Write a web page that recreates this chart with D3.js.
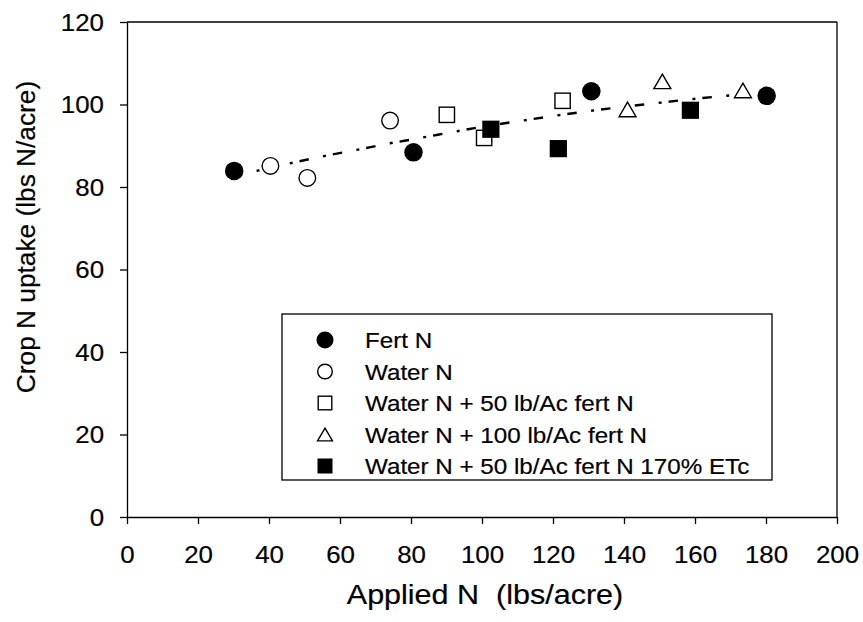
<!DOCTYPE html>
<html><head><meta charset="utf-8">
<script src="https://cdn.jsdelivr.net/npm/d3@7/dist/d3.min.js"></script>
<style>
body{margin:0;background:#fff;}
svg text{font-family:"Liberation Sans",Arial,sans-serif;fill:#000;white-space:pre;stroke:#000;stroke-width:0.2px;}
</style></head>
<body><svg id="c" width="863" height="622"></svg>
<script>
// ---- data ----
const fertX = [30.2, 80.7, 130.8, 180.2];
const fertY = [83.9, 88.4, 103.2, 102.1];
const waterX = [40.4, 50.8, 74.1];
const waterY = [85.1, 82.2, 96.1];
const w50X = [90.1, 100.6, 122.7];
const w50Y = [97.5, 91.9, 100.9];
const w100X = [141.0, 150.8, 173.5];
const w100Y = [98.8, 105.6, 103.4];
const w50etX = [102.5, 121.5, 158.7];
const w50etY = [94.0, 89.3, 98.6];
// fitted curve, points
const fitX = [36.5, 47.3, 55.5, 64.7, 74.1, 80.7, 92.9, 99.4, 111.4, 120.8, 130.1, 139.3, 148.7, 158.0, 167.3, 176.4];
const fitY = [83.9, 86.0, 87.5, 89.0, 90.6, 91.6, 93.5, 94.5, 96.1, 97.3, 98.4, 99.4, 100.3, 101.2, 102.0, 102.7];
const xTicks = [0, 20, 40, 60, 80, 100, 120, 140, 160, 180, 200];
const yTicks = [0, 20, 40, 60, 80, 100, 120];
const legendLabels = ["Fert N", "Water N", "Water N + 50 lb/Ac fert N", "Water N + 100 lb/Ac fert N", "Water N + 50 lb/Ac fert N 170% ETc"];
const xTitle = "Applied N  (lbs/acre)";
const yTitle = "Crop N uptake (lbs N/acre)";

const svg = d3.select("#c");
const x = d3.scaleLinear().domain([0, 200]).range([127, 837]);
const y = d3.scaleLinear().domain([0, 120]).range([517, 22]);

function stretch(sel, k){
  sel.each(function(){
    const w = this.getComputedTextLength();
    d3.select(this).attr("textLength", w * k).attr("lengthAdjust", "spacingAndGlyphs");
  });
}

// frame top and right
svg.append("line").attr("x1", x(0)).attr("x2", x(200)).attr("y1", y(120)).attr("y2", y(120)).attr("stroke", "#000").attr("stroke-width", 1.3);
svg.append("line").attr("x1", x(200)).attr("x2", x(200)).attr("y1", y(120)).attr("y2", y(0)).attr("stroke", "#000").attr("stroke-width", 1.3);

// axes
const xAxis = svg.append("g").attr("transform", `translate(0,${y(0)})`)
  .call(d3.axisBottom(x).tickValues(xTicks).tickSize(7).tickSizeOuter(0).tickFormat(d3.format("d")));
const yAxis = svg.append("g").attr("transform", `translate(${x(0)},0)`)
  .call(d3.axisLeft(y).tickValues(yTicks).tickSize(7).tickSizeOuter(0).tickFormat(d3.format("d")));
[xAxis, yAxis].forEach(g => {
  g.selectAll("path.domain").attr("stroke", "#000").attr("stroke-width", 1.3);
  g.selectAll(".tick line").attr("stroke", "#000").attr("stroke-width", 1.3);
  g.selectAll(".tick text").attr("font-size", 23.5).attr("font-family", "Liberation Sans, Arial, sans-serif").attr("fill", "#000");
});
xAxis.selectAll(".tick text").attr("y", 46).attr("dy", 0);
yAxis.selectAll(".tick text").attr("x", -23).attr("dy", "0.36em");
stretch(xAxis.selectAll(".tick text"), 1.1);
stretch(yAxis.selectAll(".tick text"), 1.1);

// titles
const xt = svg.append("text").attr("x", 485).attr("y", 604).attr("text-anchor", "middle").attr("font-size", 27).text(xTitle);
stretch(xt, 1.13);
const yt = svg.append("text").attr("transform", "translate(35,237) rotate(-90)").attr("text-anchor", "middle").attr("font-size", 25.5).text(yTitle);
stretch(yt, 1.03);

// fit line
const fitPts = fitX.map((v, i) => [v, fitY[i]]);
svg.append("path").datum(fitPts)
  .attr("d", d3.line().x(d => x(d[0])).y(d => y(d[1])).curve(d3.curveMonotoneX))
  .attr("fill", "none").attr("stroke", "#000").attr("stroke-width", 2.4)
  .attr("stroke-dasharray", "3,7,9.5,14.5");

// markers
function drawMarker(g, type, cx, cy, s){
  if (type === "fcircle") g.append("circle").attr("cx", cx).attr("cy", cy).attr("r", s/2).attr("fill", "#000");
  else if (type === "ocircle") g.append("circle").attr("cx", cx).attr("cy", cy).attr("r", s/2 - 0.7).attr("fill", "#fff").attr("stroke", "#000").attr("stroke-width", 1.4);
  else if (type === "osquare") g.append("rect").attr("x", cx - s/2 + 0.7).attr("y", cy - s/2 + 0.7).attr("width", s - 1.4).attr("height", s - 1.4).attr("fill", "#fff").attr("stroke", "#000").attr("stroke-width", 1.4);
  else if (type === "fsquare") g.append("rect").attr("x", cx - s/2).attr("y", cy - s/2).attr("width", s).attr("height", s).attr("fill", "#000");
  else if (type === "otri") {
    const w = s, h = s * 0.86;
    g.append("path").attr("d", `M${cx},${cy - h/2 + 0.7}L${cx + w/2 - 0.8},${cy + h/2 - 0.7}L${cx - w/2 + 0.8},${cy + h/2 - 0.7}Z`)
      .attr("fill", "#fff").attr("stroke", "#000").attr("stroke-width", 1.4).attr("stroke-linejoin", "miter");
  }
}
const series = [
  {xs: fertX, ys: fertY, type: "fcircle", s: 18.5},
  {xs: waterX, ys: waterY, type: "ocircle", s: 18},
  {xs: w50X, ys: w50Y, type: "osquare", s: 16.7},
  {xs: w100X, ys: w100Y, type: "otri", s: 18.5},
  {xs: w50etX, ys: w50etY, type: "fsquare", s: 17.2}
];
const mg = svg.append("g");
series.forEach(sr => sr.xs.forEach((v, i) => drawMarker(mg, sr.type, x(v), y(sr.ys[i]), sr.s)));

// legend
const lg = svg.append("g");
lg.append("rect").attr("x", 282).attr("y", 314).attr("width", 490).attr("height", 166).attr("fill", "#fff").attr("stroke", "#000").attr("stroke-width", 1.3);
const legS = [17, 16, 15, 16.5, 15];
legendLabels.forEach((lab, i) => {
  const cy = 340 + i * 31.5;
  drawMarker(lg, series[i].type, 325, cy, legS[i]);
  const t = lg.append("text").attr("x", 365).attr("y", cy + 8).attr("font-size", 22.5).text(lab);
  stretch(t, 1.075);
});
</script></body></html>
